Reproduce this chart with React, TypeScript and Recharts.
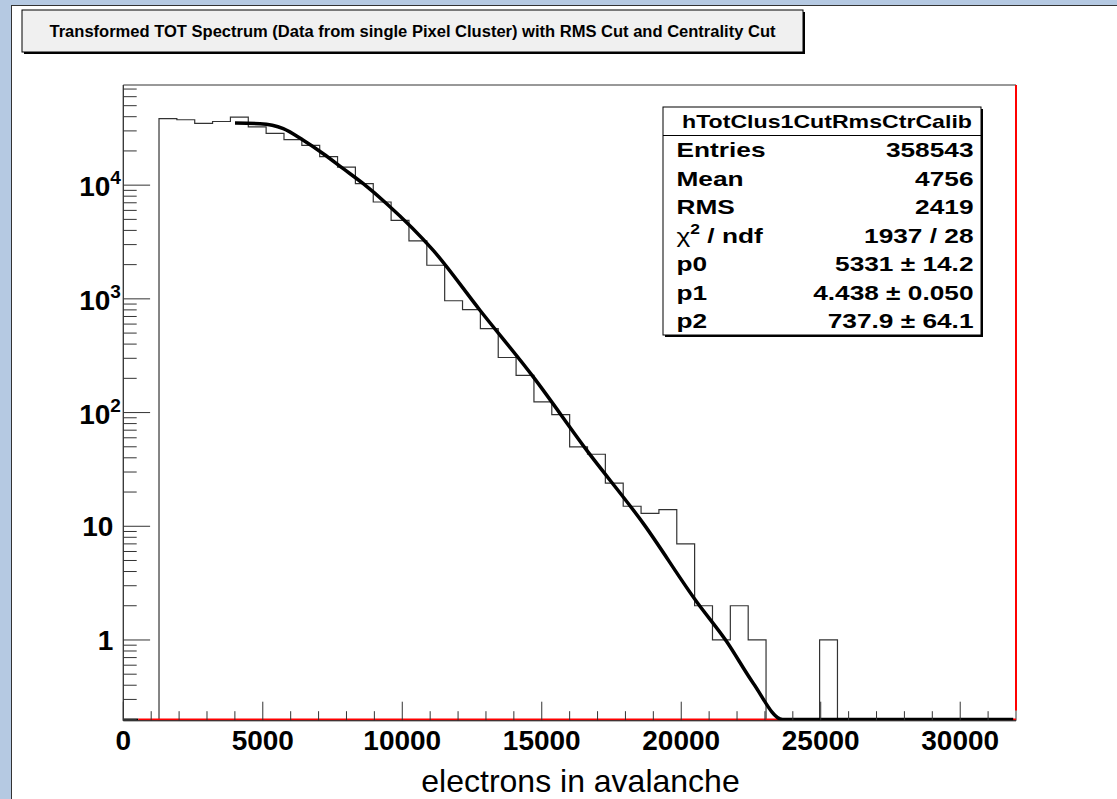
import React from "react";
import { ComposedChart, Line, XAxis, YAxis, ReferenceArea, ReferenceLine } from "recharts";

const titleText = "Transformed TOT Spectrum (Data from single Pixel Cluster) with RMS Cut and Centrality Cut";
const xTitle = "electrons in avalanche";
const histName = "hTotClus1CutRmsCtrCalib";

// histogram: 50 bins of 640 electrons, 0 .. 32000
const binWidth = 640;
const binCounts = [
  0, 0, 38400, 37600, 34900, 36300, 39700, 32600, 28500, 25100,
  22400, 17800, 14400, 10300, 7110, 4910, 3230, 1975, 962, 805,
  548, 305, 212, 124, 96, 50, 43, 24, 15, 13,
  14, 7, 2, 1, 2, 1, 0, 0, 0, 1,
  0, 0, 0, 0, 0, 0, 0, 0, 0, 0,
];

// fit curve (clamped at the bottom of the frame past ~23600)
const fitX = [4004, 4900, 5735, 6452, 7168, 7885, 8602, 9441, 11111, 12785, 14695, 16609, 18638, 20552, 21627, 22581, 23634, 31900];
const fitY = [35150, 34700, 31400, 24800, 18900, 13960, 10300, 6870, 2670, 794, 206, 46.7, 10.6, 2.17, 0.97, 0.417, 0.2, 0.2];

// red function lying on the bottom edge, and the short black stub before it
const redFloorX = [540, 32000];
const blackFloorX = [0, 540];
const floorLevel = 0.2;

const xTicks = [0, 1000, 2000, 3000, 4000, 5000, 6000, 7000, 8000, 9000, 10000, 11000, 12000, 13000, 14000, 15000,
  16000, 17000, 18000, 19000, 20000, 21000, 22000, 23000, 24000, 25000, 26000, 27000, 28000, 29000, 30000, 31000];
const yDecades = [0.1, 1, 10, 100, 1000, 10000];
const yMin = 0.195;
const yMax = 76000;

const statNames = ["Entries", "Mean", "RMS", "chi2", "p0", "p1", "p2"];
const statValues = ["358543", "4756", "2419", "1937 / 28", "5331 \u00b1 14.2", "4.438 \u00b1 0.050", "737.9 \u00b1 64.1"];

const FONT = "'Liberation Sans', Arial, Helvetica, sans-serif";

const histData = binCounts
  .map((c, i) => ({ x: i * binWidth, y: c > 0 ? c : 0.1 }))
  .concat([{ x: binCounts.length * binWidth, y: 0.1 }]);
const fitData = fitX.map((x, i) => ({ x, y: fitY[i] }));
const redData = redFloorX.map((x) => ({ x, y: floorLevel }));
const blackData = blackFloorX.map((x) => ({ x, y: floorLevel }));

const yTicks: number[] = [];
yDecades.forEach((d) => {
  for (let m = 1; m <= 9; m++) {
    const v = m * d;
    if (v >= yMin && v <= yMax) yTicks.push(v);
  }
});

const XTick = (props: any) => {
  const { x, y, payload } = props;
  const v = payload.value;
  const major = v % 5000 === 0;
  return (
    <g>
      <line x1={x} y1={y} x2={x} y2={y - (major ? 19 : 9.5)} stroke="#333" />
      {major && (
        <text x={x} y={y + 29.5} textAnchor="middle" fontSize={28} fontWeight="bold" fontFamily={FONT} fill="#000">
          {v}
        </text>
      )}
    </g>
  );
};

const YTick = (props: any) => {
  const { x, y, payload } = props;
  const lg = Math.log10(payload.value);
  const e = Math.round(lg);
  const major = Math.abs(lg - e) < 1e-6;
  let label: any = null;
  if (major && e <= 1) {
    label = (
      <text x={x - 10} y={y + 10} textAnchor="end" fontSize={28} fontWeight="bold" fontFamily={FONT} fill="#000">
        {e === 0 ? "1" : "10"}
      </text>
    );
  } else if (major) {
    label = (
      <g>
        <text x={x - 13} y={y + 11} textAnchor="end" fontSize={28} fontWeight="bold" fontFamily={FONT} fill="#000">10</text>
        <text x={x - 13} y={y - 1} textAnchor="start" fontSize={19} fontWeight="bold" fontFamily={FONT} fill="#000">{e}</text>
      </g>
    );
  }
  return (
    <g>
      <line x1={x} y1={y} x2={x + (major ? 26.8 : 13.4)} y2={y} stroke="#333" />
      {label}
    </g>
  );
};

const Stretch = ({ x, y, anchor, size, children }: any) => (
  <text transform={`translate(${x},${y}) scale(1.25,1)`} textAnchor={anchor} fontSize={size} fontWeight="bold" fontFamily={FONT} fill="#000">
    {children}
  </text>
);

const StatsBox = () => {
  const left = 663, top = 107, right = 981, bottom = 335;
  const row = (bottom - top) / 8;
  return (
    <g>
      <rect x={left + 2} y={top + 2} width={right - left} height={bottom - top} fill="#000" />
      <rect x={left} y={top} width={right - left} height={bottom - top} fill="#fff" stroke="#000" />
      <line x1={left} x2={right} y1={top + row} y2={top + row} stroke="#000" />
      <Stretch x={827} y={top + row / 2 + 7} anchor="middle" size={18.5}>{histName}</Stretch>
      {statNames.map((n, i) => {
        const yy = top + row * (i + 1.5) + 7.5;
        return (
          <g key={n}>
            <Stretch x={676.5} y={yy} anchor="start" size={21}>
              {n === "chi2" ? (
                <>
                  <tspan fontWeight="normal">{"\u03c7"}</tspan>
                  <tspan dy={-9} fontSize={14}>2</tspan>
                  <tspan dy={9}>{" / ndf"}</tspan>
                </>
              ) : n}
            </Stretch>
            <Stretch x={973.5} y={yy} anchor="end" size={21}>{statValues[i]}</Stretch>
          </g>
        );
      })}
    </g>
  );
};

export default function App() {
  return (
    <div style={{ position: "absolute", left: 0, top: 0, width: 1117, height: 799, background: "#b5c9e2", overflow: "hidden", fontFamily: FONT }}>
      <div style={{ position: "absolute", left: 11, top: 5, right: 0, bottom: 0, background: "#fff", borderTop: "1px solid #333", borderLeft: "1px solid #333" }} />
      <div style={{ position: "absolute", left: 0, top: 0 }}>
        <ComposedChart width={1117} height={799} margin={{ top: 85, right: 101, bottom: 38.3, left: 63.3 }}>
          <XAxis
            type="number"
            dataKey="x"
            domain={[0, 32000]}
            allowDataOverflow
            ticks={xTicks}
            interval={0}
            tick={XTick}
            tickLine={false}
            tickSize={0}
            tickMargin={0}
            height={40}
            axisLine={{ stroke: "#333" }}
          />
          <YAxis
            type="number"
            scale="log"
            domain={[yMin, yMax]}
            allowDataOverflow
            ticks={yTicks}
            interval={0}
            tick={YTick}
            tickLine={false}
            tickSize={0}
            tickMargin={0}
            width={60}
            axisLine={{ stroke: "#333" }}
          />
          <ReferenceArea x1={0} x2={32000} y1={yMin} y2={yMax} fill="none" stroke="#333" strokeOpacity={1} fillOpacity={0} />
          <Line data={histData} dataKey="y" type="stepAfter" stroke="#333" strokeWidth={1.2} dot={false} isAnimationActive={false} />
          <Line data={blackData} dataKey="y" type="linear" stroke="#000" strokeWidth={2} dot={false} isAnimationActive={false} />
          <Line data={redData} dataKey="y" type="linear" stroke="#ff0000" strokeWidth={2} dot={false} isAnimationActive={false} />
          <Line data={fitData} dataKey="y" type="monotone" stroke="#000" strokeWidth={3.5} dot={false} isAnimationActive={false} />
          <ReferenceLine segment={[{ x: 32000, y: 0.24 }, { x: 32000, y: yMax }]} stroke="#ff0000" strokeWidth={2} />
        </ComposedChart>
      </div>
      <svg width={1117} height={799} style={{ position: "absolute", left: 0, top: 0, pointerEvents: "none" }}>
        <rect x={24} y={12} width={781} height={42} fill="#000" />
        <rect x={22} y={10} width={781} height={42} fill="#f0f0f0" stroke="#000" />
        <text x={412.5} y={36.5} textAnchor="middle" fontSize={16} fontWeight="bold" fontFamily={FONT} fill="#000" textLength={726} lengthAdjust="spacingAndGlyphs">
          {titleText}
        </text>
        <StatsBox />
        <text x={580.5} y={792} textAnchor="middle" fontSize={32} fontFamily={FONT} fill="#000">{xTitle}</text>
      </svg>
    </div>
  );
}
